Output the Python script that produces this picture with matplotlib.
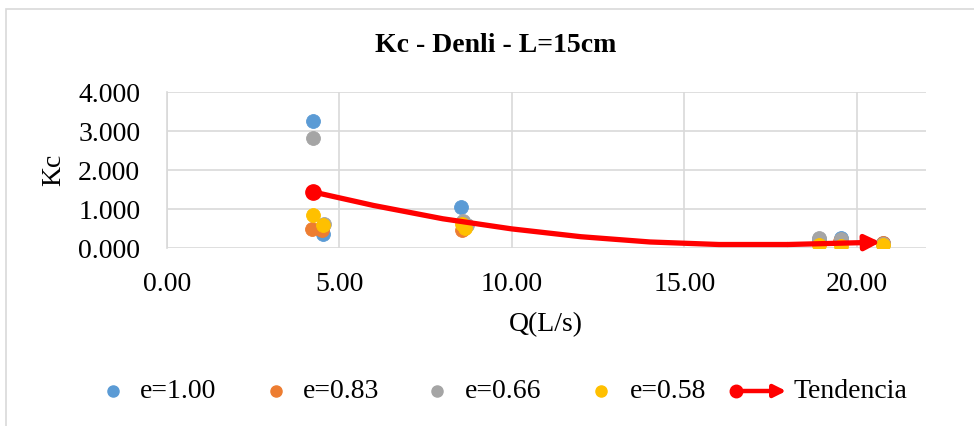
import matplotlib
matplotlib.use("Agg")
import matplotlib.pyplot as plt
from matplotlib.lines import Line2D
from matplotlib.patches import Rectangle, FancyArrowPatch

plt.rcParams['font.family'] = ['Liberation Serif', 'DejaVu Serif']

# Kc vs Q for each opening e
q_e100 = [4.23, 4.52, 8.53, 8.65, 18.90, 19.55, 20.75]
kc_e100 = [3.26, 0.36, 1.04, 0.62, 0.22, 0.25, 0.12]
q_e083 = [4.20, 4.50, 8.55, 8.60, 18.90, 19.50, 20.75]
kc_e083 = [0.48, 0.45, 0.45, 0.50, 0.13, 0.18, 0.12]
q_e066 = [4.25, 4.55, 8.60, 8.70, 18.90, 19.55, 20.75]
kc_e066 = [2.83, 0.62, 0.68, 0.60, 0.25, 0.22, 0.10]
q_e058 = [4.23, 4.52, 8.55, 8.65, 18.90, 19.55, 20.75]
kc_e058 = [0.84, 0.58, 0.62, 0.52, 0.07, 0.06, 0.09]

# trend line
q_trend = [4.23, 6.0, 8.0, 10.0, 12.0, 14.0, 16.0, 18.0, 20.68]
kc_trend = [1.44, 1.09, 0.75, 0.49, 0.29, 0.155, 0.09, 0.09, 0.15]

labels = ["e=1.00", "e=0.83", "e=0.66", "e=0.58"]
colors = ["#5B9BD5", "#ED7D31", "#A5A5A5", "#FFC000"]
series = [(q_e100, kc_e100), (q_e083, kc_e083), (q_e066, kc_e066), (q_e058, kc_e058)]

fig = plt.figure(figsize=(9.74, 4.26), dpi=100)
ax = fig.add_axes([0.1711, 0.4178, 0.7796, 0.3662])

grid_c = "#D9D9D9"
for (x, y), c in zip(series, colors):
    ax.scatter(x, y, s=100, color=c, zorder=3, linewidths=0.6, edgecolors=c)

ax.plot(q_trend[:-1], kc_trend[:-1], color="red", lw=3.8, zorder=4,
        solid_capstyle="butt")
ax.plot(q_trend[0], kc_trend[0], "o", color="red", ms=11, zorder=5)
ax.annotate("", xy=(q_trend[-1], kc_trend[-1]), xytext=(q_trend[-2], kc_trend[-2]),
            arrowprops=dict(arrowstyle="-|>", color="red", lw=3.8,
                            mutation_scale=22, shrinkA=0, shrinkB=0), zorder=5)

ax.set_xlim(0, 22)
ax.set_ylim(0, 4)
ax.set_xticks([0, 5, 10, 15, 20])
ax.set_yticks([0, 1, 2, 3, 4])
ax.set_xticklabels([f"{v:.2f}" for v in [0, 5, 10, 15, 20]])
ax.set_yticklabels([f"{v:.3f}" for v in [0, 1, 2, 3, 4]])
ax.tick_params(labelsize=20, length=0)
ax.tick_params(axis="y", pad=19)
ax.tick_params(axis="x", pad=17)
ax.grid(True, color=grid_c, lw=1.2)
ax.set_axisbelow(True)
for s in ["top", "right", "bottom"]:
    ax.spines[s].set_visible(False)
ax.spines["left"].set_color(grid_c)
ax.spines["left"].set_linewidth(1.2)

fig.text(496 / 974, 1 - 45 / 426, "Kc - Denli - L=15cm", ha="center", va="center",
         fontsize=20, fontweight="bold")
fig.text(546 / 974, 1 - 325 / 426, "Q(L/s)", ha="center", va="center", fontsize=20)
fig.text(54 / 974, 1 - 170 / 426, "Kc", ha="center", va="center", fontsize=20,
         rotation=90)

# legend drawn by hand
ly = 1 - 391 / 426
for mx, tx, lab, c in zip([113, 276, 437, 601], [140, 303, 465, 630], labels, colors):
    fig.add_artist(Line2D([mx / 974], [ly], marker="o", ms=8, color=c, ls="none",
                          transform=fig.transFigure))
    fig.text(tx / 974, ly, lab, ha="left", va="center", fontsize=20)
fig.add_artist(Line2D([736 / 974], [ly], marker="o", ms=9, color="red", ls="none",
                      transform=fig.transFigure))
fig.add_artist(FancyArrowPatch(
    (736 / 974, ly), (789 / 974, ly), transform=fig.transFigure,
    arrowstyle="-|>", color="red", lw=3.2, mutation_scale=18))
fig.text(794 / 974, ly, "Tendencia", ha="left", va="center", fontsize=20)

fig.add_artist(Rectangle((6 / 974, -0.5), 2, 1.5 - 9 / 426, transform=fig.transFigure,
                         fill=False, edgecolor=grid_c, lw=1.2))

fig.savefig("out.png", dpi=100)
